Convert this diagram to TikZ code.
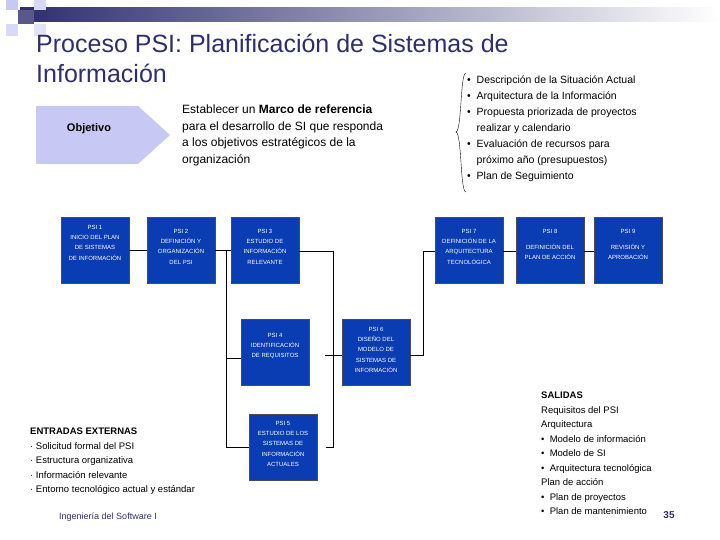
\documentclass[tikz,border=0pt]{standalone}
\usepackage{fontspec}
\setmainfont{Liberation Sans}
\usetikzlibrary{calc}
\definecolor{navy}{HTML}{2E2E6E}
\definecolor{boxblue}{HTML}{0A3CB4}
\definecolor{lav}{HTML}{C8C8F5}
\begin{document}
\begin{tikzpicture}[x=1pt,y=-1pt,
 psi/.style={draw=black!70,fill=boxblue,minimum width=68pt,minimum height=66pt,inner sep=0pt},
 psitext/.style={text=white,align=center,anchor=north,inner sep=0pt,font=\fontsize{6}{10.3}\selectfont},
 conn/.style={black,line width=0.7pt},
 lst/.style={align=left,anchor=north west,inner sep=0pt}]
\useasboundingbox (0,0) rectangle (720,540);
% decor
\shade[left color=navy,right color=white] (20,8) rectangle (720,22);
\fill[navy!80] (18,10) rectangle (34,24);
\fill[lav] (6,0) rectangle (18,10);
\fill[lav!70] (34,0) rectangle (46,10);
\fill[lav!70] (6,24) rectangle (18,36);
\fill[lav!50] (34,24) rectangle (46,36);
% title
\node[lst,text=navy,font=\fontsize{25}{30}\selectfont] (title) at (36,34) {Proceso PSI: Planificación de Sistemas de\\Información};
% objetivo arrow
\fill[lav] (36,106) -- (138,106) -- (170,135) -- (138,164) -- (36,164) -- cycle;
\node[font=\bfseries\fontsize{11}{13}\selectfont] (obj) at (89,129) {Objetivo};
\node[lst,font=\fontsize{12}{16.5}\selectfont] (marco) at (182,105) {Establecer un \textbf{Marco de referencia}\\para el desarrollo de SI que responda\\a los objetivos estratégicos de la\\organización};
\draw[thin] (466,73) .. controls (460,73) and (462,130) .. (456,132) .. controls (462,134) and (460,192) .. (466,192);
\node[lst,font=\fontsize{10.5}{16}\selectfont] (out) at (467,76) {%
\textbullet\ \ Descripción de la Situación Actual\\
\textbullet\ \ Arquitectura de la Información\\
\textbullet\ \ Propuesta priorizada de proyectos\\
\phantom{\textbullet\ \ }realizar y calendario\\
\textbullet\ \ Evaluación de recursos para\\
\phantom{\textbullet\ \ }próximo año (presupuestos)\\
\textbullet\ \ Plan de Seguimiento};
% boxes
\node[psi] (p1) at (95,250) {};
\node[psitext] (t1) at ($(p1.north)+(0,8)$) {PSI 1\\INICIO DEL PLAN\\DE SISTEMAS\\DE INFORMACIÓN};
\node[psi] (p2) at (181,250) {};
\node[psitext] (t2) at ($(p2.north)+(0,12)$) {PSI 2\\DEFINICIÓN Y\\ORGANIZACIÓN\\DEL PSI};
\node[psi] (p3) at (265,250) {};
\node[psitext] (t3) at ($(p3.north)+(0,12)$) {PSI 3\\ESTUDIO DE\\INFORMACIÓN\\RELEVANTE};
\node[psi] (p7) at (469,250) {};
\node[psitext] (t7) at ($(p7.north)+(0,12)$) {PSI 7\\DEFINICIÓN DE LA\\ARQUITECTURA\\TECNOLÓGICA};
\node[psi] (p8) at (550,250) {};
\node[psitext] (t8) at ($(p8.north)+(0,12)$) {PSI 8\\[6pt]DEFINICIÓN DEL\\PLAN DE ACCIÓN};
\node[psi] (p9) at (628,250) {};
\node[psitext] (t9) at ($(p9.north)+(0,12)$) {PSI 9\\[6pt]REVISIÓN Y\\APROBACIÓN};
\node[psi] (p4) at (275,352) {};
\node[psitext] (t4) at ($(p4.north)+(0,14)$) {PSI 4\\IDENTIFICACIÓN\\DE REQUISITOS};
\node[psi] (p6) at (376,352) {};
\node[psitext] (t6) at ($(p6.north)+(0,8)$) {PSI 6\\DISEÑO DEL\\MODELO DE\\SISTEMAS DE\\INFORMACIÓN};
\node[psi] (p5) at (283,447) {};
\node[psitext] (t5) at ($(p5.north)+(0,7)$) {PSI 5\\ESTUDIO DE LOS\\SISTEMAS DE\\INFORMACIÓN\\ACTUALES};
% connectors
\draw[conn] (p1.east) -- (p2.west);
\draw[conn] (p2.east) -- (p3.west);
\coordinate (v1) at (226,251);
\draw[conn] (v1) |- ($(p4.west)+(0,6)$);
\draw[conn] (v1) |- (p5.west);
\coordinate (v2) at (333,251);
\coordinate (v3) at (326,447);
\draw[conn] (p3.east|-v2) -| (v2) |- (v3);
\coordinate (v4) at (325,355);
\draw[conn] (v4) -- (p6.west|-v4);
\draw[conn] (p6.east|-v4) -| (423,251) -- (p7.west|-v2);
\draw[conn] (p7.east|-v2) -- (p8.west|-v2);
\draw[conn] (p8.east|-v2) -- (p9.west|-v2);
% entradas / salidas
\node[lst,font=\fontsize{9.5}{14.5}\selectfont] (ent) at (30,428) {\textbf{ENTRADAS EXTERNAS}\\
· Solicitud formal del PSI\\· Estructura organizativa\\· Información relevante\\· Entorno tecnológico actual y estándar};
\node[lst,font=\fontsize{9.5}{14.5}\selectfont] (sal) at (541,392) {\textbf{SALIDAS}\\Requisitos del PSI\\Arquitectura\\
\textbullet\ \ Modelo de información\\\textbullet\ \ Modelo de SI\\\textbullet\ \ Arquitectura tecnológica\\Plan de acción\\\textbullet\ \ Plan de proyectos\\\textbullet\ \ Plan de mantenimiento};
\node[text=navy,font=\fontsize{9}{11}\selectfont] (ing) at (108,517) {Ingeniería del Software I};
\node[text=navy,font=\bfseries\fontsize{10}{12}\selectfont] (num) at (669,515) {35};
\end{tikzpicture}
\end{document}
